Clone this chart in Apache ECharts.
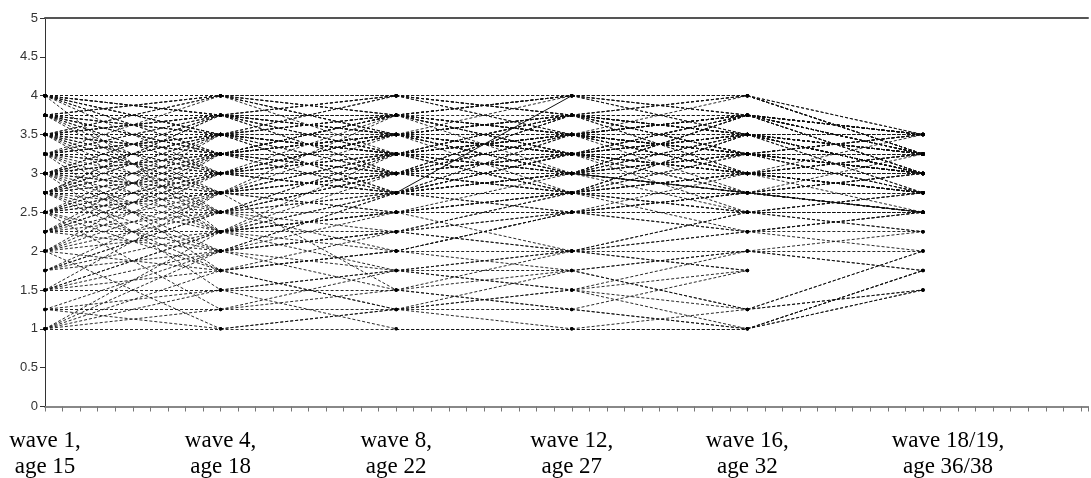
<!DOCTYPE html>
<html>
<head>
<meta charset="utf-8">
<script src="https://cdn.jsdelivr.net/npm/echarts@6/dist/echarts.min.js"></script>
<style>
html, body { margin: 0; padding: 0; background: #fff; }
#main { width: 1091px; height: 478px; }
</style>
</head>
<body>
<div id="main"></div>
<script>
// x position of each wave (in minor tick units)
var waveX = [0, 10, 20, 30, 40, 50];
var waveLabels = ['wave 1,\nage 15', 'wave 4,\nage 18', 'wave 8,\nage 22', 'wave 12,\nage 27', 'wave 16,\nage 32', 'wave 18/19,\nage 36/38'];
var yTicks = [0, 5, 0.5];

// one value per respondent at each wave
var wave1 = [4, 4, 4, 3.75, 3.75, 4, 3.5, 3.5, 3.25, 3.25,
	3, 3, 2.75, 2.75, 3.5, 4, 3.75, 3.5, 3.25, 3,
	3.75, 4, 3.25, 3, 2.75, 2.5, 2.5, 2.25, 2.25, 2,
	1.75, 1.75, 1.5, 1.5, 1.25, 1.25, 1, 1, 1, 1.5,
	4, 3.75, 3.5, 3.25, 3, 2.75, 4, 3.75, 3.5, 3.25,
	3, 2.75, 3.5, 3, 2.5, 2.25, 2, 4, 3.75, 3.5,
	3.25, 3, 2.75, 3.5, 4, 2.75, 3.25, 3, 2.5, 2,
	1.75, 1.5, 2.25, 2.5, 3.75, 3.5, 3.25, 3, 2.75, 3.75,
	4, 3.25, 3.5, 3.75, 2, 1.25, 1, 2.25, 3, 2.5,
	4, 3.75, 3.5, 3.25, 3, 2.75, 2.5, 2.25, 2, 1.75,
	1.5, 1.25, 1, 4, 3.75, 3.5, 3.25, 3, 2.75, 2.5,
	2.25, 2, 3.75, 3.5, 3.25, 3, 2.75, 2.5, 4, 3.75,
	3.5, 3.25, 3, 2.75, 4, 3.75, 3.5, 3.25, 3, 2.75,
	2.5, 2.25, 2, 1.75, 1.5, 1, 2.75, 3.25, 3.5, 2.5];
var wave4 = [4, 3.75, 4, 4, 3.5, 3.5, 3.75, 3.25, 3.5, 3,
	3.25, 3, 3, 2.75, 3.5, 4, 3.75, 3.25, 3.25, 3.5,
	3.25, 3.75, 3.75, 2.75, 3.25, 2.75, 3, 2.75, 2.5, 2.5,
	2.25, 2, 2, 1.75, 1.5, 1.25, 1, 1.25, 1.75, 1.5,
	3, 2.75, 3, 2.75, 2.5, 2.25, 4, 4, 3.75, 3.5,
	3.25, 3, 4, 3.75, 3.25, 3, 2.75, 3.5, 3.5, 3.5,
	3, 2.75, 2.5, 2.5, 2.25, 2, 1.75, 1.5, 1.25, 1,
	2.75, 2.25, 2.25, 2, 3, 3.25, 3.25, 3, 2.75, 3.75,
	3.75, 3.5, 3.75, 3.25, 1.75, 1, 1.5, 2, 2, 2.5,
	3.25, 3, 2.75, 3.75, 3.75, 3.5, 3.5, 3.25, 3, 2.5,
	2.75, 2, 2.25, 3.5, 4, 3.75, 4, 3.5, 3.75, 3.25,
	3.5, 3.25, 2.5, 2.25, 2.5, 2.25, 3.25, 3, 3.25, 3.5,
	3, 3.25, 3.5, 3.75, 3.75, 3.25, 4, 3.5, 3.25, 3.5,
	2.75, 3, 2.25, 2.5, 2.25, 2, 1.75, 2.25, 2.75, 1.75];
var wave8 = [4, 4, 3.75, 3.5, 3.75, 3.25, 4, 3.5, 3.25, 3.25,
	3.5, 3, 3.25, 3, 3.5, 3.75, 3.5, 3, 3.5, 3.75,
	3, 3.5, 3.75, 3.25, 3, 3.25, 2.75, 3, 2.75, 3,
	2.5, 2.25, 2.5, 2, 1.5, 1.25, 1, 1.5, 2, 1.75,
	2.75, 2.5, 3.25, 3, 2.75, 2.5, 4, 3.75, 3.75, 3.5,
	3.25, 3.5, 4, 3.5, 3.75, 3.5, 3.25, 3.75, 3.25, 3.25,
	2.75, 2.5, 2.25, 2, 1.75, 1.5, 1.25, 1, 1.75, 1.25,
	2.75, 2, 2.25, 2.25, 3, 3.25, 3, 2.75, 2.75, 3.75,
	3.25, 3.75, 3.5, 3.5, 2, 1.25, 1.75, 1.75, 2.25, 2.5,
	3.75, 3.5, 3.75, 3, 3.25, 2.75, 3, 2.75, 3.5, 3.25,
	3, 2.75, 3.25, 2.75, 3.25, 3, 3.5, 4, 3.5, 3.5,
	3.25, 3.75, 3, 2.75, 3.25, 3, 3.75, 3.5, 3.5, 4,
	3.75, 2.75, 3.25, 4, 3.25, 3.75, 3.5, 3, 3.5, 3.25,
	3.5, 3.25, 2.75, 3, 2.5, 2.75, 2.25, 2.5, 1.5, 1.25];
var wave12 = [4, 3.75, 4, 3.75, 3.5, 3.5, 3.75, 3.25, 3.5, 3,
	3.25, 3.25, 3, 2.75, 3.75, 3.5, 3.5, 3.25, 3.75, 4,
	2.75, 3.25, 3.5, 3.5, 3, 3.25, 3, 2.75, 3, 3.5,
	2.75, 2.5, 2.75, 2, 1.75, 1.5, 1, 1.25, 2.5, 1.75,
	3, 2.75, 3.5, 3.25, 3, 2.75, 3.75, 4, 3.75, 3.5,
	3.25, 3.5, 4, 3.25, 3.5, 3.25, 3.75, 4, 3, 3,
	2.75, 2.5, 2, 1.75, 1.5, 1.25, 1, 1, 2, 1.75,
	2.5, 2.5, 2, 2.5, 2.75, 3.25, 3, 3.25, 2.75, 3.5,
	3.75, 4, 3.25, 3.75, 2.5, 1.25, 1.5, 2, 2.75, 2.5,
	3.25, 2.75, 3, 3.75, 2.75, 3.25, 3.75, 3.5, 3, 2.75,
	3.25, 2.5, 3.5, 3.5, 3, 3.5, 3.75, 3.5, 4, 3,
	3.75, 3.25, 3.25, 3, 2.75, 3.5, 3.25, 3.75, 3, 3.75,
	3.5, 3, 3.75, 3.5, 3.5, 3.25, 3.25, 3.5, 3, 3.5,
	3.25, 3.5, 3.25, 3.75, 3, 3.25, 2.75, 2, 2, 1.5];
var wave16 = [4, 4, 3.75, 3.5, 3.75, 3.25, 3.5, 3.5, 3.25, 3.25,
	3, 3, 2.75, 3, 4, 3.75, 3.25, 3.5, 3.75, 3.75,
	3, 3, 3.25, 3.5, 3.25, 3, 2.75, 2.5, 3.25, 3.25,
	3, 2.5, 2.75, 2.25, 2, 1.75, 1, 1, 2.75, 1.25,
	2.5, 3.25, 3.75, 3.5, 3.25, 2.5, 3.5, 4, 3.75, 3,
	3.25, 3.75, 3.75, 3.5, 3.25, 3, 4, 3.5, 2.75, 3,
	2.5, 2.25, 2, 1.25, 1, 1.75, 1.25, 1, 2.25, 2,
	2.75, 2.25, 2.5, 2.75, 2.75, 3, 2.75, 3.25, 3, 3.5,
	3.25, 4, 3.25, 3.5, 2.5, 1, 1.25, 1.75, 3, 2.75,
	3.75, 3.5, 3.25, 3, 3.5, 2.75, 3.25, 3, 3.75, 3.5,
	2.5, 3, 3.75, 2.75, 3.75, 4, 3, 3.25, 3.5, 3.5,
	3.25, 3.5, 3.75, 3.5, 3.25, 3, 3.75, 3.5, 3.75, 3.25,
	3, 3.75, 3.5, 3.75, 3.75, 3.5, 3.75, 3.25, 3.5, 3.25,
	3.5, 3.75, 2.75, 3.5, 2.75, 3, 2.25, 2.5, 1.75, 2];
var wave19 = [3.5, 3.25, 3.5, 3.25, 3, 3, 3.5, 3.25, 2.75, 3,
	2.75, 3, 2.5, 2.75, 3.25, 3.5, 3.25, 3, 3.5, 3.25,
	2.75, 2.5, 3, 3.25, 2.75, 3, 2.5, 2.75, 3, 3.25,
	2.75, 2.5, 2.5, 2.25, 2, null, 1.75, 1.5, 3, 1.5,
	2.5, 3, 3.25, 3, 3.5, 2.25, 3, 3.5, 3.25, 2.75,
	3, 3.5, 3.5, 3.25, 3, 2.75, 3.25, 3, 2.5, 3,
	2.5, 2, 1.75, 1.5, 1.75, null, 2, 1.75, 2.5, 2.25,
	2.5, 2.5, 2.75, 3, 2.75, 3.25, 2.75, 3.5, 3, 3.5,
	3.25, 3.25, 3, 2.75, 2.5, 1.5, 2, null, 2.75, 2.5,
	3.5, 3.25, 3, 2.75, 3.25, 3, 3.5, 3.25, 3.5, 3,
	2.75, 3.25, 3.25, 3.25, 3, 3.25, 3.5, 2.75, 3, 3.25,
	3, 3.5, 3.25, 3.5, 3, 3.25, 3, 2.75, 3, 3.5,
	3.25, 3.5, 3, 3.25, 3.25, 3, 3.5, 3.5, 3.25, 3,
	3.25, 3.5, 2.5, 3, 3, 2.75, 2.5, 2.25, null, 1.75];

// the two solid segments
var solidA = [null, null, 2.75, 4, null, null];
var solidB = [null, null, null, 3, 2.75, 2.5];

var waves = [wave1, wave4, wave8, wave12, wave16, wave19];
var serifFont = '"Liberation Serif", "Times New Roman", serif';

// each segment drawn on its own so identical segments share the same dash phase
function segmentsOf(vals, out) {
	for (var k = 0; k < waveX.length - 1; k++) {
		if (vals[k] == null || vals[k + 1] == null) continue;
		out.push({ coords: [[waveX[k], vals[k]], [waveX[k + 1], vals[k + 1]]] });
	}
}

var dashed = [];
var dots = [];
for (var i = 0; i < wave1.length; i++) {
	var vals = [];
	for (var k = 0; k < waves.length; k++) {
		vals.push(waves[k][i]);
		if (waves[k][i] != null) dots.push([waveX[k], waves[k][i]]);
	}
	segmentsOf(vals, dashed);
}
var solid = [];
segmentsOf(solidA, solid);
segmentsOf(solidB, solid);

var myChart = echarts.init(document.getElementById('main'));
myChart.setOption({
	animation: false,
	grid: { left: 45, right: 0, top: 18, bottom: 71 },
	xAxis: [{
		type: 'value',
		min: 0,
		max: 59.4,
		interval: 1,
		splitLine: { show: false },
		axisLine: { lineStyle: { color: '#888', width: 2 } },
		axisTick: { length: 5, lineStyle: { color: '#777' } },
		axisLabel: {
			margin: 21,
			formatter: function (v) {
				var idx = waveX.indexOf(v);
				if (idx < 0) return '';
				var style = idx === waveX.length - 1 ? 'last' : 'w';
				return waveLabels[idx].split('\n').map(function (l) {
					return '{' + style + '|' + l + '}';
				}).join('\n');
			},
			rich: {
				w: { fontFamily: serifFont, fontSize: 23, lineHeight: 26, color: '#000' },
				last: { fontFamily: serifFont, fontSize: 23, lineHeight: 26, color: '#000', padding: [0, 0, 0, 50] }
			}
		}
	}, {
		type: 'value',
		position: 'top',
		min: 0,
		max: 59.4,
		axisLine: { show: true, lineStyle: { color: '#555', width: 2 } },
		axisTick: { show: false },
		axisLabel: { show: false },
		splitLine: { show: false }
	}],
	yAxis: {
		type: 'value',
		min: yTicks[0],
		max: yTicks[1],
		interval: yTicks[2],
		splitLine: { show: false },
		axisLine: { show: true, lineStyle: { color: '#333', width: 1 } },
		axisTick: { show: true, length: 5, lineStyle: { color: '#333' } },
		axisLabel: { margin: 7, fontSize: 13, color: '#333', fontFamily: '"Liberation Sans", Arial, sans-serif' }
	},
	series: [{
		type: 'lines',
		coordinateSystem: 'cartesian2d',
		silent: true,
		lineStyle: { color: '#111', width: 0.9, type: [3, 2], opacity: 1 },
		data: dashed
	}, {
		type: 'lines',
		coordinateSystem: 'cartesian2d',
		silent: true,
		lineStyle: { color: '#111', width: 1, type: 'solid', opacity: 1 },
		data: solid
	}, {
		type: 'scatter',
		silent: true,
		symbol: 'circle',
		symbolSize: 3.5,
		itemStyle: { color: '#000' },
		data: dots
	}]
});
</script>
</body>
</html>
